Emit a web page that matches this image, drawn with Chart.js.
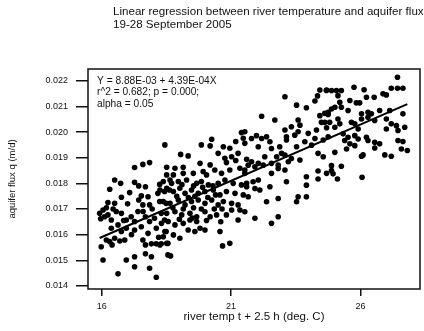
<!DOCTYPE html>
<html>
<head>
<meta charset="utf-8">
<script src="https://cdn.jsdelivr.net/npm/chart.js@4.4.1/dist/chart.umd.min.js"></script>
<style>
  html, body { margin: 0; padding: 0; background: #fff; }
  #wrap { width: 424px; height: 331px; }
</style>
</head>
<body>
<div id="wrap"><canvas id="fluxChart" width="424" height="331"></canvas></div>
<script>
// river temperature (deg C, lagged 2.5 h) and aquifer flux (m/d)
const riverTemp = [
  17.85, 17.59, 17.27, 16.50, 16.73, 17.27, 17.43, 17.69, 18.24,
  16.31, 17.08, 16.76, 17.53, 17.79, 18.17, 18.43, 18.62,
  16.24, 16.50, 17.43, 17.59, 17.85, 18.24, 18.49,
  16.05, 15.92, 16.11, 16.24, 16.37, 16.56, 16.76, 16.95, 17.14, 17.27, 17.69, 17.85, 18.04, 18.30, 18.43,
  16.37, 16.63, 16.76, 16.95, 17.27, 17.53, 17.79, 18.11, 18.49,
  15.98, 16.18, 16.31, 16.50, 16.89, 17.59, 17.69, 17.92, 18.11, 18.30, 18.56,
  16.05, 16.95, 17.27, 17.69, 17.92, 18.56, 17.27, 17.85, 16.63, 18.11,
  15.96, 16.18, 16.40, 16.44, 16.70, 16.85, 17.00, 17.40, 17.60, 17.95, 18.20, 17.15,
  21.40, 21.47, 21.18, 20.25, 19.85, 20.19, 20.70, 20.95, 18.44,
  19.05, 19.34, 20.50, 20.76, 21.02, 21.27, 19.80, 20.19, 20.82, 21.18, 21.60,
  18.51, 18.83, 19.15, 18.51, 18.77, 19.15, 19.54, 19.92, 20.05, 20.37, 20.63, 20.95, 21.34, 21.53,
  18.38, 18.64, 18.96, 19.28, 19.67, 19.85, 20.12, 20.50, 20.76, 21.08, 21.40, 21.60,
  18.25, 18.51, 18.77, 19.02, 19.22, 19.47, 19.73, 19.99, 20.31, 20.57, 20.82, 21.15, 21.47,
  18.38, 18.64, 18.96, 19.22, 19.47, 19.73, 19.99, 20.25, 20.50, 20.70, 21.02, 21.27, 21.02,
  18.51, 18.83, 19.09, 19.41, 19.67, 19.99, 20.19, 20.44, 20.82, 21.27, 21.34,
  18.31, 18.57, 18.83, 19.15, 19.41, 19.67, 19.80, 19.34, 18.44, 18.77,
  18.38, 18.51, 18.25, 19.02, 19.60, 19.99, 20.57, 20.67, 20.95, 18.66,
  18.70, 19.10, 19.55, 19.90, 20.30, 18.90, 19.35, 19.60, 20.10, 20.40,
  18.75, 19.15, 19.55, 19.85, 20.35, 20.65, 19.00, 19.50, 20.05, 20.60,
  24.43, 24.69, 24.34, 23.08, 24.24, 23.53, 23.91, 22.18, 22.69, 23.59, 24.62, 24.43, 24.75, 24.49,
  23.08, 23.33, 23.66, 23.98, 24.30, 24.69, 23.59, 23.46,
  21.53, 21.79, 21.98, 22.18, 22.37, 21.53, 22.05, 22.50, 23.14, 23.14, 23.85, 24.24, 24.56, 24.75,
  22.56, 22.88, 23.53, 24.11, 22.95, 22.76, 23.08, 23.33, 22.30, 21.79, 22.05, 21.66, 21.92, 22.56, 22.82, 23.21, 23.66, 24.36, 24.56,
  21.53, 22.24, 22.56, 23.08, 22.82,
  22.05, 21.85, 21.60, 21.92, 22.11, 21.66, 22.50, 23.14, 23.91, 24.36, 24.69, 24.36, 23.91,
  22.82, 23.59, 23.53, 23.91, 22.37, 21.53, 21.92, 22.82, 22.56,
  27.43, 27.19, 27.43, 27.64, 25.75, 26.14, 24.68, 24.88, 25.07, 25.26,
  26.23, 26.53, 26.87, 27.00, 25.13, 25.20, 25.59, 25.84, 25.97,
  24.75, 24.88, 25.01, 25.26, 25.52, 26.04, 26.29, 26.42, 26.74, 27.13, 27.64,
  24.62, 24.81, 25.13, 25.20, 25.01, 25.65, 25.78, 26.04, 26.29, 26.55, 27.00, 27.19, 27.39, 27.71, 27.00, 27.45, 25.91,
  25.33, 25.52, 25.78, 25.91, 25.39, 25.59, 25.78, 25.46, 26.23, 26.29, 26.55, 26.74,
  26.55, 27.64, 27.45, 27.58, 27.81, 26.94, 27.19, 26.10, 26.04, 25.01,
  24.88, 25.26, 24.88, 24.94, 25.11, 26.06
];
const aquiferFlux = [
  0.01881, 0.01874, 0.01862, 0.01813, 0.01800, 0.01804, 0.01790, 0.01787, 0.01796,
  0.01777, 0.01764, 0.01746, 0.01751, 0.01748, 0.01761, 0.01768, 0.01774,
  0.01725, 0.01722, 0.01735, 0.01716, 0.01716, 0.01729, 0.01722,
  0.01696, 0.01683, 0.01670, 0.01677, 0.01657, 0.01690, 0.01683, 0.01657, 0.01670, 0.01651, 0.01670, 0.01651, 0.01664, 0.01683, 0.01657,
  0.01625, 0.01638, 0.01612, 0.01625, 0.01618, 0.01631, 0.01605, 0.01625, 0.01612,
  0.01553, 0.01579, 0.01573, 0.01586, 0.01579, 0.01579, 0.01560, 0.01564, 0.01564, 0.01564, 0.01566,
  0.01501, 0.01501, 0.01514, 0.01525, 0.01514, 0.01521, 0.01475, 0.01469, 0.01447, 0.01434,
  0.01662, 0.01705, 0.01560, 0.01700, 0.01575, 0.01655, 0.01720, 0.01690, 0.01690, 0.01700, 0.01590, 0.01600,
  0.01998, 0.01976, 0.01963, 0.01972, 0.01950, 0.01946, 0.01943, 0.01937, 0.01950,
  0.01913, 0.01907, 0.01917, 0.01898, 0.01904, 0.01917, 0.01878, 0.01872, 0.01881, 0.01889, 0.01894,
  0.01863, 0.01859, 0.01863, 0.01833, 0.01833, 0.01839, 0.01839, 0.01846, 0.01833, 0.01852, 0.01839, 0.01852, 0.01859, 0.01839,
  0.01807, 0.01813, 0.01807, 0.01813, 0.01800, 0.01807, 0.01794, 0.01800, 0.01813, 0.01800, 0.01794, 0.01787,
  0.01774, 0.01781, 0.01768, 0.01781, 0.01761, 0.01774, 0.01761, 0.01768, 0.01774, 0.01755, 0.01768, 0.01761, 0.01755,
  0.01729, 0.01722, 0.01735, 0.01716, 0.01729, 0.01735, 0.01722, 0.01735, 0.01716, 0.01729, 0.01722, 0.01716, 0.01696,
  0.01683, 0.01689, 0.01677, 0.01683, 0.01670, 0.01689, 0.01670, 0.01677, 0.01677, 0.01657, 0.01696,
  0.01644, 0.01651, 0.01638, 0.01644, 0.01657, 0.01651, 0.01625, 0.01618, 0.01612, 0.01599,
  0.01592, 0.01566, 0.01560, 0.01586, 0.01612, 0.01618, 0.01612, 0.01556, 0.01566, 0.01517,
  0.01800, 0.01795, 0.01790, 0.01785, 0.01790, 0.01750, 0.01745, 0.01750, 0.01745, 0.01755,
  0.01705, 0.01700, 0.01705, 0.01700, 0.01700, 0.01700, 0.01660, 0.01665, 0.01655, 0.01650,
  0.02164, 0.02164, 0.02141, 0.02138, 0.02121, 0.02105, 0.02095, 0.02062, 0.02047, 0.02047, 0.02073, 0.02064, 0.02069, 0.02038,
  0.02008, 0.02021, 0.02027, 0.01995, 0.02008, 0.02017, 0.02001, 0.01988,
  0.02001, 0.01975, 0.01986, 0.01975, 0.01982, 0.01956, 0.01943, 0.01962, 0.01982, 0.01969, 0.01962, 0.01975, 0.01969, 0.01982,
  0.01936, 0.01943, 0.01943, 0.01949, 0.01917, 0.01904, 0.01910, 0.01897, 0.01904, 0.01884, 0.01878, 0.01871, 0.01865, 0.01878, 0.01871, 0.01884, 0.01891, 0.01917, 0.01904,
  0.01852, 0.01871, 0.01839, 0.01852, 0.01858,
  0.01813, 0.01806, 0.01800, 0.01780, 0.01774, 0.01748, 0.01787, 0.01806, 0.01826, 0.01848, 0.01839, 0.01817, 0.01793,
  0.01741, 0.01748, 0.01728, 0.01748, 0.01728, 0.01689, 0.01664, 0.01670, 0.01644,
  0.02214, 0.02171, 0.02171, 0.02171, 0.02175, 0.02165, 0.02162, 0.02162, 0.02162, 0.02162,
  0.02136, 0.02136, 0.02149, 0.02145, 0.02142, 0.02116, 0.02123, 0.02114, 0.02114,
  0.02077, 0.02090, 0.02097, 0.02097, 0.02084, 0.02071, 0.02077, 0.02071, 0.02084, 0.02084, 0.02071,
  0.02038, 0.02038, 0.02051, 0.02032, 0.02019, 0.02038, 0.02032, 0.02051, 0.02058, 0.02045, 0.02051, 0.02032, 0.02025, 0.02019, 0.02012, 0.02006, 0.02012,
  0.01993, 0.01980, 0.01986, 0.01973, 0.01967, 0.01954, 0.01947, 0.01934, 0.01980, 0.01967, 0.01960, 0.01954,
  0.01938, 0.01963, 0.01967, 0.01934, 0.01928, 0.01911, 0.01906, 0.01911, 0.01906, 0.01921,
  0.01869, 0.01867, 0.01850, 0.01837, 0.01817, 0.01824
];

const xTicks = [16, 21, 26];
const yTicks = [0.014, 0.015, 0.016, 0.017, 0.018, 0.019, 0.020, 0.021, 0.022];
const intercept = 8.88e-3;
const slope = 4.39e-4;
const titleLines = ['Linear regression between river temperature and aquifer flux', '19-28 September 2005'];
const fitNotes = ['Y = 8.88E-03 + 4.39E-04X', 'r^2 = 0.682; p = 0.000;', 'alpha = 0.05'];

const FONT = "'Liberation Sans', Arial, sans-serif";
Chart.defaults.font.family = FONT;
Chart.defaults.color = '#000';

const points = riverTemp.map((t, i) => ({ x: t, y: aquiferFlux[i] }));
const tMin = Math.min(...riverTemp);
const tMax = Math.max(...riverTemp);
const fitLine = [tMin, tMax].map(t => ({ x: t, y: intercept + slope * t }));

// box round the plot plus the title and fit notes
const frameAndNotes = {
  id: 'frameAndNotes',
  afterDraw(chart) {
    const { ctx, chartArea: a } = chart;
    ctx.save();
    ctx.strokeStyle = '#111';
    ctx.lineWidth = 1.5;
    ctx.strokeRect(a.left, a.top, a.right - a.left, a.bottom - a.top);

    ctx.fillStyle = '#111';
    ctx.textBaseline = 'middle';
    ctx.textAlign = 'left';
    ctx.font = '11.6px ' + FONT;
    titleLines.forEach((s, i) => ctx.fillText(s, 113, 12 + i * 13));

    ctx.font = '10.2px ' + FONT;
    fitNotes.forEach((s, i) => ctx.fillText(s, a.left + 9, a.top + 12 + i * 11.4));
    ctx.restore();
  }
};

new Chart(document.getElementById('fluxChart'), {
  type: 'scatter',
  data: {
    datasets: [
      {
        data: fitLine,
        showLine: true,
        borderColor: '#000',
        borderWidth: 2,
        pointRadius: 0,
        order: 1
      },
      {
        data: points,
        pointRadius: 2.8,
        pointBackgroundColor: '#000',
        pointBorderWidth: 0,
        order: 2
      }
    ]
  },
  options: {
    responsive: false,
    animation: false,
    events: [],
    layout: { padding: { top: 69, right: 3, left: 0, bottom: 0 } },
    plugins: {
      legend: { display: false },
      tooltip: { enabled: false }
    },
    scales: {
      x: {
        type: 'linear',
        min: 15.47,
        max: 28.3,
        afterBuildTicks: s => { s.ticks = xTicks.map(v => ({ value: v })); },
        afterFit: s => { s.height = 42; },
        border: { display: false },
        grid: { drawOnChartArea: false, drawTicks: true, tickLength: 7, color: '#111', lineWidth: 1.5 },
        ticks: { font: { size: 9 }, color: '#111', padding: 5, maxRotation: 0 },
        title: {
          display: true,
          text: 'river temp t + 2.5 h (deg. C)',
          font: { size: 11.5 },
          color: '#111',
          padding: { top: 0, bottom: 7 }
        }
      },
      y: {
        type: 'linear',
        min: 0.01388,
        max: 0.02246,
        afterBuildTicks: s => { s.ticks = yTicks.map(v => ({ value: v })); },
        afterFit: s => { s.width = 88; },
        border: { display: false },
        grid: { drawOnChartArea: false, drawTicks: true, tickLength: 12, color: '#111', lineWidth: 1.5 },
        ticks: { font: { size: 9 }, color: '#111', padding: 8, callback: v => v.toFixed(3) },
        title: {
          display: true,
          text: 'aquifer flux q (m/d)',
          font: { size: 9.5 },
          color: '#111',
          padding: { top: 7, bottom: 0 }
        }
      }
    }
  },
  plugins: [frameAndNotes]
});
</script>
</body>
</html>
